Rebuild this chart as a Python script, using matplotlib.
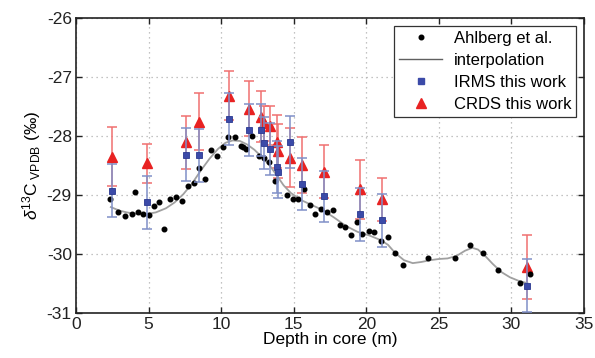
import matplotlib
matplotlib.use("Agg")
import matplotlib.pyplot as plt
from matplotlib.lines import Line2D

plt.rcParams['font.family'] = ['Liberation Sans', 'DejaVu Sans']
plt.rcParams['mathtext.fontset'] = 'custom'
plt.rcParams['mathtext.rm'] = 'Liberation Sans'
plt.rcParams['mathtext.it'] = 'Liberation Sans:italic'
plt.rcParams['axes.unicode_minus'] = False

# Ahlberg et al. data
ahl_x = [2.34, 2.87, 3.38, 3.84, 4.09, 4.26, 4.64, 5.03, 5.38, 5.72,
         6.09, 6.5, 6.9, 7.29, 7.74, 8.11, 8.48, 8.9, 9.31, 9.7,
         10.16, 10.5, 10.97, 11.36, 11.54, 11.7, 12.16, 12.58, 12.97, 13.31,
         13.72, 14.53, 14.94, 15.29, 15.68, 16.09, 16.48, 16.87, 17.29, 17.7,
         18.16, 18.5, 18.94, 19.36, 19.74, 20.16, 20.5, 21.03, 21.5, 22.0,
         22.53, 24.23, 26.14, 27.17, 28.05, 29.06, 30.62, 31.31]
ahl_y = [-29.07, -29.28, -29.35, -29.32, -28.94, -29.28, -29.32, -29.34, -29.19, -29.11,
         -29.57, -29.06, -29.03, -29.10, -28.85, -28.80, -28.54, -28.73, -28.24, -28.33,
         -28.18, -28.02, -28.02, -28.16, -28.18, -28.21, -27.99, -28.33, -28.37, -28.44,
         -28.75, -29.0, -29.06, -29.07, -28.89, -29.16, -29.31, -29.24, -29.29, -29.25,
         -29.50, -29.54, -29.67, -29.45, -29.66, -29.60, -29.63, -29.77, -29.70, -29.98,
         -30.18, -30.06, -30.07, -29.84, -29.97, -30.27, -30.48, -30.33]

# interpolation curve
interp_x = [2.4, 3.0, 3.5, 4.0, 4.8, 5.5, 6.2, 6.8, 7.4, 8.0, 8.6, 9.2, 9.8, 10.3,
            10.8, 11.3, 11.8, 12.3, 12.8, 13.3, 13.8, 14.3, 14.8, 15.5, 16.2, 17.0,
            17.8, 18.6, 19.4, 20.2, 21.0, 21.5, 22.0, 22.6, 23.2, 23.8, 24.4, 25.0,
            25.6, 26.2, 26.8, 27.3, 27.7, 28.2, 28.7, 29.3, 29.9, 30.5, 31.1]
interp_y = [-29.20, -29.26, -29.29, -29.31, -29.32, -29.29, -29.22, -29.12, -28.98, -28.80,
            -28.58, -28.38, -28.21, -28.11, -28.07, -28.08, -28.14, -28.23, -28.35, -28.48,
            -28.65, -28.83, -28.96, -29.08, -29.16, -29.25, -29.38, -29.52, -29.62, -29.68,
            -29.76, -29.84, -29.98, -30.10, -30.15, -30.13, -30.10, -30.08, -30.07, -30.03,
            -29.94, -29.89, -29.92, -30.03, -30.16, -30.30, -30.39, -30.45, -30.49]

# this work
depth = [2.46, 4.92, 7.59, 8.48, 10.55, 11.95, 12.76, 12.97, 13.38, 13.84, 13.95,
         14.76, 15.56, 17.06, 19.59, 21.08, 31.08]
irms_y = [-28.92, -29.12, -28.31, -28.32, -27.71, -27.90, -27.90, -28.11, -28.22, -28.52,
          -28.60, -28.10, -28.81, -29.02, -29.32, -29.42, -30.53]
irms_err = [0.45, 0.45, 0.45, 0.45, 0.44, 0.44, 0.44, 0.44, 0.44, 0.44, 0.44,
            0.44, 0.44, 0.44, 0.45, 0.45, 0.45]
crds_y = [-28.35, -28.46, -28.10, -27.75, -27.31, -27.53, -27.67, -27.78, -27.82, -28.09,
          -28.25, -28.36, -28.49, -28.60, -28.90, -29.07, -30.22]
crds_err = [0.50, 0.33, 0.45, 0.48, 0.42, 0.46, 0.43, 0.30, 0.33, 0.45, 0.45,
            0.50, 0.47, 0.45, 0.50, 0.36, 0.54]

xticks = [0, 5, 10, 15, 20, 25, 30, 35]
yticks = [-31, -30, -29, -28, -27, -26]

fig = plt.figure(figsize=(5.95, 3.58), dpi=100)
ax = fig.add_axes([0.1277, 0.1249, 0.8538, 0.824])

red_line = '#f07070'
red_mk = '#e82222'
blue_line = '#8090c8'
blue_mk = '#3b4aa8'

ax.errorbar(depth, crds_y, yerr=crds_err, fmt='none', ecolor=red_line,
            elinewidth=1.1, capsize=3.5, capthick=1.1, zorder=2)
ax.plot(depth, crds_y, linestyle='none', marker='^', markersize=6.5,
        color=red_mk, markeredgecolor=red_mk, zorder=3)
ax.plot(interp_x, interp_y, color='#a0a0a0', linewidth=1.3, zorder=4)
ax.plot(ahl_x, ahl_y, linestyle='none', marker='o', markersize=3.3,
        color='black', zorder=5)
ax.errorbar(depth, irms_y, yerr=irms_err, fmt='none', ecolor=blue_line,
            elinewidth=1.1, capsize=3.5, capthick=1.1, zorder=6)
ax.plot(depth, irms_y, linestyle='none', marker='s', markersize=5,
        color=blue_mk, markeredgecolor='#2a3890', markeredgewidth=0.6, zorder=7)

ax.set_xlim(0, 35)
ax.set_ylim(-31, -26)
ax.set_xticks(xticks)
ax.set_yticks(yticks)
ax.grid(True, linestyle=(0, (1, 3)), color='#b0b0b0', linewidth=0.9)
ax.tick_params(direction='in', top=True, right=True, length=4, width=1,
               labelsize=12.5, colors='#222222', pad=3)
for s in ax.spines.values():
    s.set_linewidth(1.2)
    s.set_color('#222222')

ax.set_xlabel('Depth in core (m)', fontsize=12.5, labelpad=0)
ax.set_ylabel(r'$\delta^{13}$C$_{\rm\ VPDB}$ (‰)', fontsize=12.5, labelpad=3)

handles = [
    Line2D([], [], linestyle='none', marker='o', markersize=3.3, color='black'),
    Line2D([], [], color='#606060', linewidth=1.0),
    Line2D([], [], linestyle='none', marker='s', markersize=5, color=blue_mk),
    Line2D([], [], linestyle='none', marker='^', markersize=6.5, color=red_mk),
]
labels = ['Ahlberg et al.', 'interpolation', 'IRMS this work', 'CRDS this work']
leg = ax.legend(handles, labels, loc='upper right', fontsize=12, frameon=True,
                fancybox=False, edgecolor='#333333', framealpha=1,
                borderaxespad=0.45, handlelength=2.6, labelspacing=0.42,
                handletextpad=0.7, borderpad=0.3)
leg.get_frame().set_linewidth(0.9)

fig.savefig('out.png', dpi=100)
